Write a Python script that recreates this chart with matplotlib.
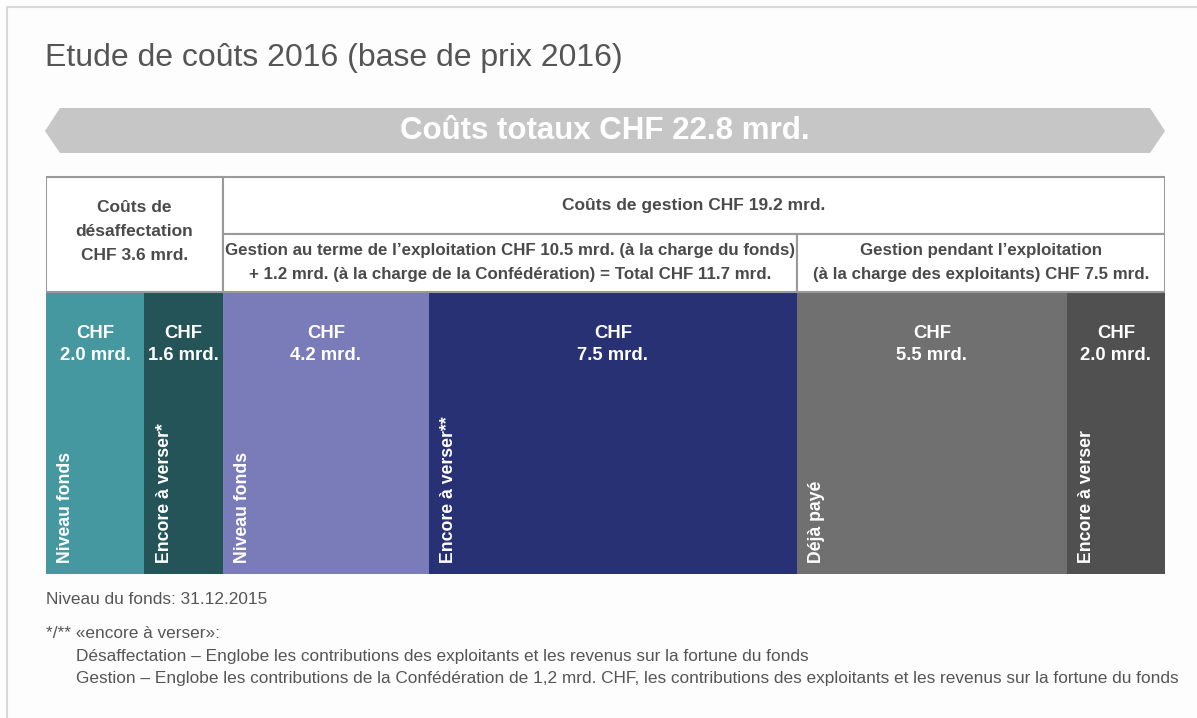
import matplotlib
matplotlib.use("Agg")
import matplotlib.pyplot as plt
from matplotlib.patches import Rectangle, Polygon
import numpy as np

plt.rcParams['font.family'] = ['Liberation Sans', 'DejaVu Sans']

# ---- data ----
values = [2.0, 1.6, 4.2, 7.5, 5.5, 2.0]
value_labels = ["CHF\n2.0 mrd.", "CHF\n1.6 mrd.", "CHF\n4.2 mrd.", "CHF\n7.5 mrd.", "CHF\n5.5 mrd.", "CHF\n2.0 mrd."]
segment_labels = ["Niveau fonds", "Encore à verser*", "Niveau fonds", "Encore à verser**", "Déjà payé", "Encore à verser"]
colors = ["#4597a0", "#245457", "#7a7cba", "#283174", "#6f706f", "#505050"]

group_top = [("Coûts de\ndésaffectation\nCHF 3.6 mrd.", 3.6), ("Coûts de gestion CHF 19.2 mrd.", 19.2)]
group_sub = [("Gestion au terme de l’exploitation CHF 10.5 mrd. (à la charge du fonds)\n+ 1.2 mrd. (à la charge de la Confédération) = Total CHF 11.7 mrd.", 11.7),
             ("Gestion pendant l’exploitation\n(à la charge des exploitants) CHF 7.5 mrd.", 7.5)]

title = "Etude de coûts 2016 (base de prix 2016)"
banner = "Coûts totaux CHF 22.8 mrd."
notes = ["Niveau du fonds: 31.12.2015", "*/** «encore à verser»:",
         "Désaffectation – Englobe les contributions des exploitants et les revenus sur la fortune du fonds",
         "Gestion – Englobe les contributions de la Confédération de 1,2 mrd. CHF, les contributions des exploitants et les revenus sur la fortune du fonds"]

W, H = 1197, 718
fig = plt.figure(figsize=(W / 100, H / 100), dpi=100)
fig.patch.set_facecolor("#fdfdfd")

# overlay in pixel coords
ov = fig.add_axes([0, 0, 1, 1])
ov.set_xlim(0, W)
ov.set_ylim(H, 0)
ov.axis("off")
ov.plot([7, 7, W], [H, 7, 7], color="#d8d8d8", lw=1.5)

ov.text(45, 58, title, fontsize=23, color="#555555", va="center", ha="left")

# banner arrow
ov.add_patch(Polygon([[45, 131], [60, 108], [1150, 108], [1165, 131], [1150, 153], [60, 153]],
                     closed=True, facecolor="#c6c6c6", edgecolor="none"))
ov.text(605, 131, banner, fontsize=22.5, fontweight="bold", color="white", ha="center", va="center")

ny = [600, 634, 656, 679]
nx = [46, 46, 76, 76]
for t, x, y in zip(notes, nx, ny):
    ov.text(x, y, t, fontsize=12.45, color="#555555", ha="left", va="center")

# main axes: x in CHF mrd., y in pixel-like units
x0, x1, ytop, ybot = 46, 1165, 170, 576
ax = fig.add_axes([x0 / W, (H - ybot) / H, (x1 - x0) / W, (ybot - ytop) / H])
ax.patch.set_alpha(0)
total = sum(values)
ax.set_xlim(0, total)
ax.set_ylim(ybot, ytop)
ax.axis("off")

lefts = np.concatenate([[0], np.cumsum(values)[:-1]])
bar_top, bar_bot = 292, 574
ax.bar(lefts, bar_bot - bar_top, width=values, bottom=bar_top, align="edge", color=colors, linewidth=0)

for l, v, lab, seg in zip(lefts, values, value_labels, segment_labels):
    cx = l + v / 2
    c1, c2 = lab.split("\n")
    ax.text(cx, 334, c1, fontsize=13.3, fontweight="bold", color="white", ha="center", va="center")
    ax.text(cx, 356, c2, fontsize=13.3, fontweight="bold", color="white", ha="center", va="center")
    ax.annotate(seg, xy=(l, 563), xytext=(14.4, 0), textcoords="offset points",
                rotation=90, ha="center", va="bottom", fontsize=12.7, fontweight="bold", color="white")

# header table
ec = "#9a9a9a"
tc = "#4a4a4a"
lw = 1.5
hdr_top, mid, hdr_bot = 177, 234, 292
d_w = group_top[0][1]
ax.add_patch(Rectangle((0, hdr_top), d_w, hdr_bot - hdr_top, facecolor="white", edgecolor=ec, lw=lw))
ax.text(d_w / 2, 231.5, group_top[0][0], fontsize=12.5, fontweight="bold", color=tc,
        ha="center", va="center", linespacing=1.76)
g_w = group_top[1][1]
ax.add_patch(Rectangle((d_w, hdr_top), g_w, mid - hdr_top, facecolor="white", edgecolor=ec, lw=lw))
ax.text(d_w + g_w / 2, (hdr_top + mid) / 2, group_top[1][0], fontsize=12.5, fontweight="bold", color=tc,
        ha="center", va="center")
sx = d_w
for t, w in group_sub:
    ax.add_patch(Rectangle((sx, mid), w, hdr_bot - mid, facecolor="white", edgecolor=ec, lw=lw))
    ax.text(sx + w / 2, 262.5, t, fontsize=12.2, fontweight="bold", color=tc,
            ha="center", va="center", linespacing=1.83)
    sx += w

fig.savefig("out.png", dpi=100, facecolor=fig.get_facecolor())
